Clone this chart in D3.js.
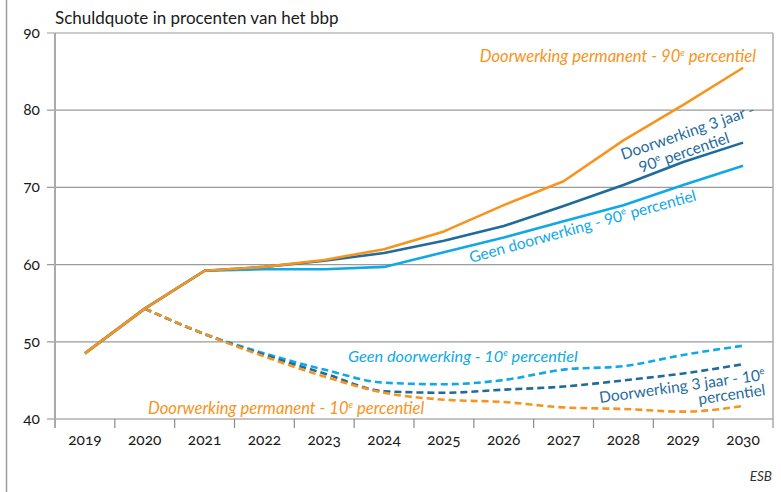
<!DOCTYPE html>
<html>
<head>
<meta charset="utf-8">
<script src="https://cdn.jsdelivr.net/npm/d3@7"></script>
<style>
body { margin: 0; background: #fff; }
svg { font-family: Lato, "Open Sans", sans-serif; }
.tick-label { font-size: 15.5px; fill: #1a1a1a; font-variant-numeric: oldstyle-nums; }
</style>
</head>
<body>
<svg id="chart" width="781" height="492"></svg>
<script>
// jaren op de x-as
var years = [2019,2020,2021,2022,2023,2024,2025,2026,2027,2028,2029,2030];
var yTicks = [40,50,60,70,80,90];

// 90e percentiel (doorgetrokken lijnen)
var permanent90 = [48.5,54.3,59.2,59.7,60.6,62.0,64.3,67.7,70.8,76.1,80.7,85.5];
var driejaar90  = [48.5,54.3,59.2,59.7,60.5,61.5,63.1,65.0,67.6,70.3,73.3,75.8];
var geen90      = [48.5,54.3,59.2,59.4,59.4,59.7,61.6,63.5,65.6,67.7,70.3,72.8];

// 10e percentiel (gestippelde lijnen), vanaf 2020
var dashYears   = [2020,2021,2022,2023,2024,2025,2026,2027,2028,2029,2030];
var permanent10 = [54.3,51.0,48.1,45.5,43.4,42.5,42.2,41.5,41.3,40.95,41.7];
var driejaar10  = [54.3,51.0,48.3,45.9,43.6,43.4,43.8,44.2,45.0,45.9,47.1];
var geen10      = [54.3,51.0,48.5,46.4,44.7,44.5,45.05,46.4,46.85,48.3,49.5];

var orange = "#f7941d";
var darkBlue = "#1f6b9c";
var lightBlue = "#10a8e6";

var svg = d3.select("#chart");

var plotLeft = 55, plotRight = 773, plotTop = 33, plotBottom = 419;

var x = d3.scaleBand()
  .domain(years)
  .range([plotLeft, plotRight]);

var y = d3.scaleLinear()
  .domain([40, 90])
  .range([plotBottom, plotTop]);

function cx(yr) { return x(yr) + x.bandwidth() / 2; }

// kader links
svg.append("line")
  .attr("x1", 6.5).attr("x2", 6.5)
  .attr("y1", 0).attr("y2", 492)
  .attr("stroke", "#9a9a9a").attr("stroke-width", 1.5);

// gridlijnen
yTicks.forEach(function(t){
  svg.append("line")
    .attr("x1", plotLeft - 8).attr("x2", plotRight)
    .attr("y1", y(t)).attr("y2", y(t))
    .attr("stroke", t == 40 ? "#8a8a8a" : "#9a9a9a")
    .attr("stroke-width", 1.2);
  svg.append("text")
    .attr("class", "tick-label")
    .attr("x", 40).attr("y", y(t) + 5)
    .attr("text-anchor", "end")
    .text(t);
});

// y-as en rechterrand
svg.append("line")
  .attr("x1", plotLeft).attr("x2", plotLeft)
  .attr("y1", plotTop).attr("y2", plotBottom + 9)
  .attr("stroke", "#aaaaaa").attr("stroke-width", 2);
svg.append("line")
  .attr("x1", plotRight).attr("x2", plotRight)
  .attr("y1", plotTop).attr("y2", plotBottom + 9)
  .attr("stroke", "#aaaaaa").attr("stroke-width", 1.5);

// x-as ticks en labels
years.forEach(function(yr, i){
  if (i > 0) {
    svg.append("line")
      .attr("x1", x(yr)).attr("x2", x(yr))
      .attr("y1", plotBottom).attr("y2", plotBottom + 9)
      .attr("stroke", "#8a8a8a").attr("stroke-width", 1.2);
  }
  svg.append("text")
    .attr("class", "tick-label")
    .attr("x", cx(yr)).attr("y", plotBottom + 26)
    .attr("text-anchor", "middle")
    .text(yr);
});

// titel
svg.append("text")
  .attr("x", 55).attr("y", 24)
  .attr("font-size", "17px")
  .attr("fill", "#1a1a1a")
  .text("Schuldquote in procenten van het bbp");

svg.append("text")
  .attr("x", 772).attr("y", 481)
  .attr("text-anchor", "end")
  .attr("font-size", "13.5px")
  .attr("font-style", "italic")
  .attr("fill", "#333")
  .text("ESB");

// lijnen
var solidLine = d3.line()
  .x(function(d){ return cx(d[0]); })
  .y(function(d){ return y(d[1]); });

var dashLine = d3.line()
  .x(function(d){ return cx(d[0]); })
  .y(function(d){ return y(d[1]); })
  .curve(d3.curveMonotoneX);

function drawSeries(yrs, vals, color, dashed) {
  var pts = yrs.map(function(yr, i){ return [yr, vals[i]]; });
  svg.append("path")
    .datum(pts)
    .attr("d", dashed ? dashLine : solidLine)
    .attr("fill", "none")
    .attr("stroke", color)
    .attr("stroke-width", 2.6)
    .attr("stroke-dasharray", dashed ? "7,4" : null)
    .attr("stroke-linejoin", "round");
}

drawSeries(dashYears, geen10, lightBlue, true);
drawSeries(dashYears, driejaar10, darkBlue, true);
drawSeries(dashYears, permanent10, orange, true);
drawSeries(years, geen90, lightBlue, false);
drawSeries(years, driejaar90, darkBlue, false);
drawSeries(years, permanent90, orange, false);

// labels bij de lijnen
function label(parts, color, px, py, angle, anchor, italic, size) {
  var t = svg.append("text")
    .attr("fill", color)
    .style("font-size", (size || 15.5) + "px")
    .attr("text-anchor", anchor || "start")
    .attr("font-style", italic ? "italic" : "normal")
    .attr("transform", "translate(" + px + "," + py + ") rotate(" + (angle || 0) + ")");
  var afterSup = false;
  parts.forEach(function(p){
    var s = t.append("tspan").text(p.text);
    if (p.sup) {
      s.attr("dy", -6).style("font-size", "9.5px");
      afterSup = true;
    } else if (afterSup) {
      s.attr("dy", 6);
      afterSup = false;
    }
  });
  return t;
}

label([{text:"Doorwerking permanent - 90"},{text:"e",sup:true},{text:" percentiel"}],
  orange, 756, 62, 0, "end", true, 16.6);
label([{text:"Doorwerking permanent - 10"},{text:"e",sup:true},{text:" percentiel"}],
  orange, 148, 414, 0, "start", true, 16.6);
label([{text:"Geen doorwerking - 10"},{text:"e",sup:true},{text:" percentiel"}],
  lightBlue, 348, 362, 0, "start", true, 16.3);

label([{text:"Geen doorwerking - 90"},{text:"e",sup:true},{text:" percentiel"}],
  lightBlue, 471, 263, -15.5, "start", false);
label([{text:"Doorwerking 3 jaar -"}],
  darkBlue, 623, 160, -19, "start", false);
label([{text:"90"},{text:"e",sup:true},{text:" percentiel"}],
  darkBlue, 641, 173, -19, "start", false);
label([{text:"Doorwerking 3 jaar - 10"},{text:"e",sup:true}],
  darkBlue, 600, 403, -8, "start", false);
label([{text:"percentiel"}],
  darkBlue, 766, 395, -8, "end", false);
</script>
</body>
</html>
